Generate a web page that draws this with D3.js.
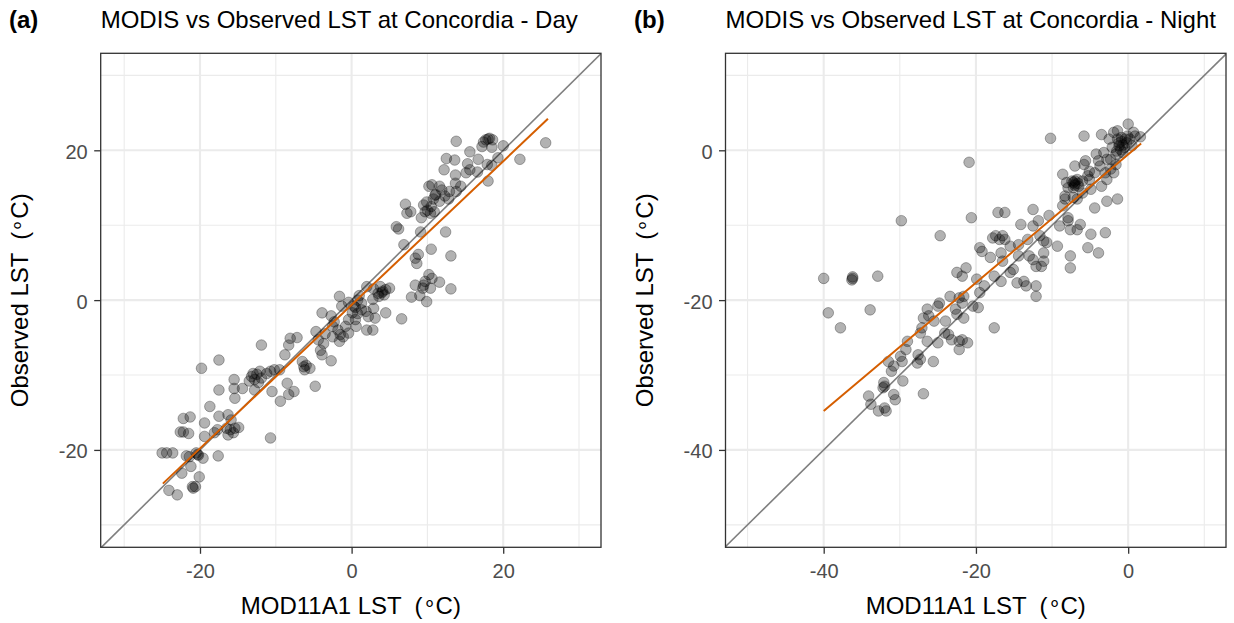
<!DOCTYPE html>
<html><head><meta charset="utf-8">
<script src="https://cdn.jsdelivr.net/npm/d3@7"></script>
<style>body{margin:0;background:#fff} text{font-family:"Liberation Sans",Arial,Helvetica,sans-serif}</style>
</head><body><svg id="c" width="1234" height="623"></svg>
<script>
// ---------- DATA ----------
// Panel (a): Day  [MOD11A1 LST, Observed LST] in °C
const dayPoints = [
[13.8,21.2],[17.7,21.4],[18.2,21.6],[18.6,21.4],[17.4,21.1],[20.0,20.6],[25.6,21.0],[22.2,18.8],[15.6,19.8],[17.2,20.5],
[18.5,20.4],[12.5,18.9],[13.6,18.7],[16.7,18.8],[15.3,18.2],[15.6,17.4],[15.1,17.0],[12.2,17.4],[13.7,16.7],[16.6,17.1],
[17.9,18.1],[19.3,19.0],[18.5,18.0],[18.0,15.9],[13.7,15.6],[14.4,15.2],[12.9,14.5],[13.8,14.5],[10.2,15.2],[10.6,15.4],
[11.6,15.2],[11.9,14.7],[11.1,14.1],[10.8,13.5],[11.6,13.2],[12.3,13.9],[12.8,13.5],[9.5,12.7],[9.9,13.1],[10.5,12.5],
[9.7,11.8],[10.4,11.6],[10.9,11.8],[7.1,12.8],[7.3,11.6],[7.8,11.8],[9.2,11.0],[5.9,9.8],[6.2,9.5],[9.1,9.1],
[12.4,9.1],[6.9,7.4],[10.5,6.8],[13.1,5.9],[8.8,6.1],[8.4,5.6],[8.6,4.9],[10.2,3.4],[10.6,2.9],[11.6,2.4],
[9.7,2.5],[8.4,2.0],[9.4,1.6],[9.0,0.6],[9.9,-0.2],[7.9,0.4],[13.1,1.5],[9.5,2.0],[10.4,1.6],
[2.0,1.8],[2.9,1.5],[3.8,1.8],[4.1,1.2],[4.5,1.4],[5.0,1.6],[4.3,0.7],[3.6,0.5],[2.8,0.1],[-1.6,0.5],
[-1.3,-0.8],[-0.4,-0.3],[0.8,0.0],[1.3,-0.4],[1.0,0.6],[0.3,-0.8],[0.1,-1.7],[0.5,-2.6],[0.6,-3.5],[1.3,-1.3],
[1.9,-1.5],[2.2,-2.2],[2.9,-1.1],[3.1,-2.4],[2.0,-4.0],[2.8,-4.0],[4.5,-1.7],[6.6,-2.5],
[-3.9,-1.7],[-2.7,-2.1],[-2.3,-2.9],[-2.5,-3.5],[-1.8,-4.0],[-0.8,-3.5],[-0.4,-2.6],[-1.1,-4.9],[-1.6,-5.5],[-2.5,-4.9],
[-4.7,-4.2],[-4.4,-5.3],[-3.7,-5.8],[-4.1,-6.7],[-3.9,-7.3],[-2.7,-8.1],[-0.4,-4.4],
[-8.1,-5.1],[-7.2,-5.0],[-8.3,-6.0],[-11.9,-6.0],[-8.8,-7.3],[-6.5,-8.2],[-6.0,-8.7],[-6.2,-9.3],[-5.5,-9.1],[-4.8,-11.5],
[-7.6,-12.2],[-8.5,-11.1],[-8.3,-12.6],[-9.4,-13.5],[-10.5,-12.2],
[-13.0,-9.8],[-12.1,-9.5],[-11.2,-9.8],[-10.7,-9.5],[-10.2,-9.3],[-9.5,-9.3],[-12.8,-10.6],[-13.5,-10.8],[-12.3,-11.0],[-11.9,-10.4],
[-12.8,-12.0],[-14.4,-11.8],[-15.5,-10.6],[-15.5,-11.8],[-15.4,-13.1],[-17.5,-12.0],[-19.8,-9.1],[-17.5,-8.0],
[-18.7,-14.2],[-17.5,-15.5],[-16.3,-15.3],[-15.9,-16.0],[-15.4,-17.1],[-14.9,-17.0],[-16.5,-17.1],[-16.3,-18.0],[-15.6,-17.7],[-17.7,-17.3],
[-18.1,-17.7],[-19.4,-16.4],[-19.4,-18.2],[-10.7,-18.4],
[-22.2,-15.8],[-21.3,-15.6],[-22.6,-17.6],[-22.2,-17.6],[-21.5,-17.8],
[-25.0,-20.4],[-24.4,-20.4],[-23.6,-20.4],[-20.5,-20.4],[-20.2,-20.7],[-19.6,-21.1],[-21.4,-20.9],[-17.6,-20.8],
[-21.2,-22.2],[-22.4,-23.1],[-20.1,-23.6],[-20.6,-24.9],[-20.9,-25.1],[-24.1,-25.4],[-23.0,-26.0],[-21.8,-20.8],
[0.5,-1.0],[0.8,-1.8],[3.5,0.9],[4.0,1.0],[-1.5,-4.6],[-3.5,-4.5],[-13.2,-10.2],[-12.5,-9.9],[-6.3,-8.9],[-16.0,-17.3],
[-20.3,-20.6],[-21.0,-24.9],[11.0,14.0],[10.0,12.0],[18.0,21.5]
];
// Panel (b): Night
const nightPoints = [
[-40.0,-17.1],[-39.4,-21.7],[-37.8,-23.7],[-36.2,-17.1],[-36.2,-16.9],[-36.3,-17.3],[-33.9,-21.3],[-32.9,-16.8],[-29.8,-9.4],[-24.7,-11.4],
[-20.9,-1.6],[-20.6,-9.0],[-10.2,1.6],[-5.8,1.9],
[-34.1,-32.8],[-33.8,-33.9],[-32.8,-34.8],[-32.0,-34.4],[-31.8,-34.8],[-32.1,-31.0],[-32.2,-31.7],[-32.0,-31.5],[-30.8,-32.6],[-30.6,-33.3],
[-29.6,-30.8],[-31.1,-29.5],[-31.5,-28.2],[-30.8,-28.8],[-29.9,-27.5],[-29.7,-28.2],[-29.0,-25.5],[-29.2,-26.6],[-27.6,-27.3],[-27.3,-27.9],
[-27.7,-28.4],[-26.9,-32.5],[-25.6,-28.2],[-26.4,-25.5],[-27.3,-24.4],[-27.1,-23.7],[-26.9,-22.4],[-26.4,-21.2],[-26.2,-22.1],[-25.5,-22.8],
[-25.0,-20.8],[-24.8,-20.4],[-25.0,-25.7],[-24.0,-22.8],[-23.6,-24.6],[-23.2,-25.3],[-22.2,-25.5],[-21.8,-25.3],[-22.2,-26.6],[-21.1,-25.7],
[-23.4,-19.5],[-22.2,-19.7],[-21.8,-20.4],[-22.7,-21.2],[-22.5,-21.9],[-21.6,-22.4],[-22.5,-16.3],[-21.8,-16.8],[-21.3,-15.7],[-21.6,-19.5],
[-20.4,-20.8],[-19.7,-21.0],[-19.5,-19.0],[-19.9,-17.2],[-18.9,-18.1],[-17.6,-23.7],[-24.1,-24.4],
[-19.5,-13.0],[-19.2,-13.5],[-18.1,-14.3],[-17.8,-11.7],[-17.4,-11.4],[-16.9,-11.9],[-16.5,-11.4],[-16.2,-11.9],[-16.7,-13.7],[-16.5,-14.8],
[-17.1,-8.3],[-16.2,-8.3],[-17.6,-16.8],[-16.7,-17.5],[-15.5,-16.3],[-15.1,-15.9],[-14.6,-17.7],[-13.7,-17.5],[-13.4,-18.1],[-12.1,-18.1],
[-12.1,-19.5],[-14.4,-12.6],[-14.1,-9.9],[-12.5,-7.9],[-12.5,-10.1],[-11.8,-9.4],[-11.1,-12.1],[-11.1,-13.7],[-10.7,-12.3],[-10.4,-8.7],
[-9.3,-12.8],[-13.0,-14.1],[-12.5,-14.6],[-12.1,-15.5],[-11.4,-15.5],[-11.1,-14.8],[-9.0,-10.1],[-7.9,-9.4],[-7.6,-10.6],[-6.7,-10.6],
[-6.3,-9.9],[-4.9,-11.2],[-3.0,-11.0],[-5.3,-13.0],[-3.9,-13.7],[-7.6,-14.1],[-7.6,-15.7],[-8.3,-6.5],[-8.6,-7.4],[-7.9,-9.0],
[-14.4,-14.1],[-13.2,-11.9],[-11.6,-11.4],[-15.5,-12.8],
[-8.6,-3.2],[-8.1,-4.3],[-7.4,-4.1],[-7.0,-4.5],[-6.5,-4.8],[-7.2,-5.0],[-6.7,-3.9],[-6.0,-4.1],[-7.9,-5.0],[-7.0,-2.1],
[-5.8,-1.9],[-5.6,-1.4],[-5.1,-2.8],[-4.9,-5.2],[-6.0,-5.7],[-4.2,-0.5],[-3.7,-2.1],[-3.5,-4.8],[-2.8,-3.9],[-2.8,-6.8],
[-1.4,-6.5],[-4.4,-7.7],[-3.0,-3.0],[-2.3,-2.5],[-1.9,-3.0],[-1.6,-1.9],[-2.3,-1.2],[-3.5,2.1],[-2.5,1.5],[-1.9,2.4],
[-1.4,2.6],[-0.9,1.7],[0.0,3.5],[0.7,2.4],[1.6,1.8],[-1.2,0.6],[-0.5,0.4],[-0.7,-0.3],[-1.6,-0.5],[-0.9,1.2],
[-0.2,1.0],[0.5,0.6],[0.2,1.5],[0.9,1.9],[-2.1,0.4],[-3.2,-0.3],[-2.8,-1.2],[-3.9,-1.4],[-4.4,-3.0],[-5.1,-3.9],
[-8.3,-6.1],[-7.2,-6.3],[-6.7,-6.5],[-5.3,-3.4],
[-7.2,-4.3],[-7.0,-4.1],[-6.6,-4.4],[-7.0,-4.7],[-1.4,1.5],[-1.2,1.0],[-0.7,0.7],[-0.4,1.5],[-1.0,0.1],[-1.5,-0.1],[-0.1,1.9]
];
// Linear fit end points [x, y]
const dayFit = [[-24.9,-24.5],[25.9,24.2]];
const nightFit = [[-40.0,-34.8],[1.7,0.9]];
// Tick labels
const dayTicks = [-20, 0, 20];
const nightTicks = [-40, -20, 0];
const dayMinor = [-30, -10, 10, 30];
const nightMinor = [-50, -30, -10, 10];
const titles = ["MODIS vs Observed LST at Concordia - Day", "MODIS vs Observed LST at Concordia - Night"];
const tags = ["(a)", "(b)"];
const xTitle = ["MOD11A1 LST  (", "\u2218", "C)"];
const yTitle = ["Observed LST  (", "\u2218", "C)"];

// ---------- DRAW ----------
const svg = d3.select("#c");
svg.append("rect").attr("width",1234).attr("height",623).attr("fill","#fff");

function addTitle(sel, parts) {
  sel.style("white-space","pre").attr("xml:space","preserve");
  sel.append("tspan").text(parts[0]);
  sel.append("tspan").text(parts[1]).style("font-size","21px").attr("dy","-5");
  sel.append("tspan").text(parts[2]).attr("dy","5");
}

function drawPanel(o, idx) {
  const x = d3.scaleLinear().domain(o.xDom).range([o.left, o.right]);
  const y = d3.scaleLinear().domain(o.yDom).range([o.bottom, o.top]);
  const g = svg.append("g");
  // grid
  g.selectAll(".vmin").data(o.minor).join("line")
    .attr("x1",d=>x(d)).attr("x2",d=>x(d)).attr("y1",o.top).attr("y2",o.bottom)
    .attr("stroke","#ebebeb").attr("stroke-width",1.1);
  g.selectAll(".hmin").data(o.minor).join("line")
    .attr("y1",d=>y(d)).attr("y2",d=>y(d)).attr("x1",o.left).attr("x2",o.right)
    .attr("stroke","#ebebeb").attr("stroke-width",1.1);
  g.selectAll(".vmaj").data(o.ticks).join("line")
    .attr("x1",d=>x(d)).attr("x2",d=>x(d)).attr("y1",o.top).attr("y2",o.bottom)
    .attr("stroke","#ebebeb").attr("stroke-width",2.1);
  g.selectAll(".hmaj").data(o.ticks).join("line")
    .attr("y1",d=>y(d)).attr("y2",d=>y(d)).attr("x1",o.left).attr("x2",o.right)
    .attr("stroke","#ebebeb").attr("stroke-width",2.1);

  const cid = "clip" + idx;
  svg.append("clipPath").attr("id",cid).append("rect")
    .attr("x",o.left).attr("y",o.top).attr("width",o.right-o.left).attr("height",o.bottom-o.top);
  const pg = g.append("g").attr("clip-path",`url(#${cid})`);
  const lo = Math.min(o.xDom[0], o.yDom[0]) - 5, hi = Math.max(o.xDom[1], o.yDom[1]) + 5;
  const line = d3.line().x(d=>x(d[0])).y(d=>y(d[1]));
  pg.append("path").datum([[lo,lo],[hi,hi]]).attr("d",line)
    .attr("stroke","#7f7f7f").attr("stroke-width",1.6).attr("fill","none");
  pg.selectAll("circle").data(o.points).join("circle")
    .attr("cx",d=>x(d[0])).attr("cy",d=>y(d[1])).attr("r",5.3)
    .attr("fill","#000").attr("fill-opacity",0.3)
    .attr("stroke","#000").attr("stroke-opacity",0.3).attr("stroke-width",1);
  pg.append("path").datum(o.fit).attr("d",line)
    .attr("stroke","#d55e00").attr("stroke-width",2).attr("fill","none");

  g.append("rect").attr("x",o.left).attr("y",o.top).attr("width",o.right-o.left).attr("height",o.bottom-o.top)
    .attr("fill","none").attr("stroke","#333").attr("stroke-width",1.3);

  const ax = g.append("g").attr("transform",`translate(0,${o.bottom})`)
    .call(d3.axisBottom(x).tickValues(o.ticks).tickSize(6.5).tickPadding(10).tickFormat(d=>String(d)));
  const ay = g.append("g").attr("transform",`translate(${o.left},0)`)
    .call(d3.axisLeft(y).tickValues(o.ticks).tickSize(6.5).tickPadding(6.5).tickFormat(d=>String(d)));
  [ax, ay].forEach(a => {
    a.select(".domain").remove();
    a.selectAll(".tick line").attr("stroke","#333").attr("stroke-width",1.3);
    a.selectAll(".tick text").attr("fill","#4d4d4d").style("font-size","20px")
      .style("font-family",'"Liberation Sans",Arial,sans-serif');
  });
  ay.selectAll(".tick text").attr("dy","0.4em");

  // titles
  svg.append("text").attr("x",o.tagX).attr("y",28).text(o.tag)
    .style("font-size","24px").style("font-weight","bold").attr("fill","#000");
  svg.append("text").attr("x",o.left).attr("y",28).text(o.title)
    .style("font-size","24px").attr("fill","#000");
  addTitle(svg.append("text").attr("x",(o.left+o.right)/2).attr("y",614).attr("text-anchor","middle")
    .style("font-size","24px").attr("fill","#000"), xTitle);
  addTitle(svg.append("text").attr("transform",`translate(${o.left-72.4},${(o.top+o.bottom)/2}) rotate(-90)`)
    .attr("text-anchor","middle").style("font-size","24px").attr("fill","#000"), yTitle);
}

drawPanel({left:100.7, right:601, top:53.3, bottom:547.3, xDom:[-33.1,32.9], yDom:[-33.0,32.95],
  ticks:dayTicks, minor:dayMinor, points:dayPoints, fit:dayFit, tag:tags[0], tagX:9, title:titles[0]}, 0);
drawPanel({left:725.5, right:1226, top:53.3, bottom:547.3, xDom:[-52.9,12.85], yDom:[-53.0,12.95],
  ticks:nightTicks, minor:nightMinor, points:nightPoints, fit:nightFit, tag:tags[1], tagX:634, title:titles[1]}, 1);
</script></body></html>
